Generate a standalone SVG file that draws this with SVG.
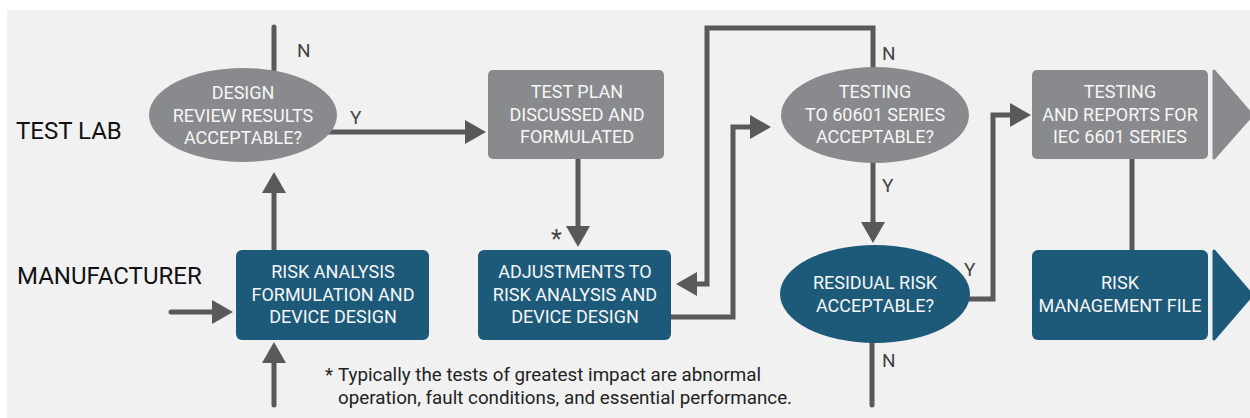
<svg xmlns="http://www.w3.org/2000/svg" width="1250" height="418" viewBox="0 0 1250 418">
<style>
.bg{fill:#f1f1f1}
.gray{fill:#898a8d}
.blue{fill:#1d5a79}
.nt{font-family:Roboto,"Liberation Sans",sans-serif;font-size:18px;fill:#f6f6f6;text-anchor:middle}
.lane{font-family:Roboto,"Liberation Sans",sans-serif;font-size:24px;fill:#111}
.yn{font-family:Roboto,"Liberation Sans",sans-serif;font-size:19px;fill:#444}
.note{font-family:Roboto,"Liberation Sans",sans-serif;font-size:18.8px;fill:#222}
.c{fill:none;stroke:#595959;stroke-width:5;stroke-linejoin:miter}
.r{stroke-linecap:round}
</style>
<defs>
<marker id="ah" markerUnits="userSpaceOnUse" markerWidth="21" markerHeight="24" refX="2" refY="12" orient="auto">
<path d="M0,0 L21,12 L0,24 z" fill="#595959"/>
</marker>
</defs>
<rect class="bg" x="7" y="10" width="1243" height="408"/>
<text class="lane" x="16" y="139">TEST LAB</text>
<text class="lane" x="17" y="284">MANUFACTURER</text>
<g id="connectors">
<path class="c r" d="M274,27 V70"/>
<path class="c" d="M320,132 H467" marker-end="url(#ah)"/>
<path class="c" d="M578,159 V228" marker-end="url(#ah)"/>
<path class="c" d="M274,250 V191" marker-end="url(#ah)"/>
<path class="c r" d="M171,312 H214" marker-end="url(#ah)"/>
<path class="c r" d="M274,405 V361" marker-end="url(#ah)"/>
<path class="c" d="M873,70 V28 H707 V284 H695" marker-end="url(#ah)"/>
<path class="c" d="M668,317 H733 V127 H752" marker-end="url(#ah)"/>
<path class="c" d="M873,160 V224" marker-end="url(#ah)"/>
<path class="c" d="M960,299 H993 V115 H1012" marker-end="url(#ah)"/>
<path class="c r" d="M872,340 V405"/>
<path class="c" d="M1132,159 V250"/>
</g>
<g id="labels">
<text class="yn" x="297" y="57">N</text>
<text class="yn" x="350" y="124">Y</text>
<text class="yn" x="882" y="60">N</text>
<text class="yn" x="882" y="192">Y</text>
<text class="yn" x="964" y="276">Y</text>
<text class="yn" x="882" y="367">N</text>
<text class="yn" x="551" y="248" style="font-size:25px">*</text>
</g>
<g id="design-review">
<ellipse class="gray" cx="243" cy="115" rx="94" ry="47"/>
<text class="nt" x="243" y="99">DESIGN</text>
<text class="nt" x="243" y="122">REVIEW RESULTS</text>
<text class="nt" x="243" y="144">ACCEPTABLE?</text>
</g>
<g id="test-plan">
<rect class="gray" x="488" y="70" width="176" height="89" rx="5"/>
<text class="nt" x="577" y="98">TEST PLAN</text>
<text class="nt" x="577" y="121">DISCUSSED AND</text>
<text class="nt" x="577" y="143">FORMULATED</text>
</g>
<g id="testing-60601">
<ellipse class="gray" cx="875" cy="115" rx="94" ry="48"/>
<text class="nt" x="875" y="98">TESTING</text>
<text class="nt" x="875" y="121">TO 60601 SERIES</text>
<text class="nt" x="875" y="143">ACCEPTABLE?</text>
</g>
<g id="testing-reports">
<rect class="gray" x="1032" y="70" width="176" height="89" rx="5"/>
<text class="nt" x="1120" y="98">TESTING</text>
<text class="nt" x="1120" y="121">AND REPORTS FOR</text>
<text class="nt" x="1120" y="143">IEC 6601 SERIES</text>
<path class="gray" d="M1214,71 L1252,115 L1214,158 Z" stroke="#898a8d" stroke-width="3" stroke-linejoin="round"/>
</g>
<g id="risk-analysis">
<rect class="blue" x="236" y="250" width="193" height="90" rx="6"/>
<text class="nt" x="333" y="278">RISK ANALYSIS</text>
<text class="nt" x="333" y="301">FORMULATION AND</text>
<text class="nt" x="333" y="323">DEVICE DESIGN</text>
</g>
<g id="adjustments">
<rect class="blue" x="478" y="250" width="193" height="90" rx="6"/>
<text class="nt" x="575" y="278">ADJUSTMENTS TO</text>
<text class="nt" x="575" y="301">RISK ANALYSIS AND</text>
<text class="nt" x="575" y="323">DEVICE DESIGN</text>
</g>
<g id="residual-risk">
<ellipse class="blue" cx="875" cy="294" rx="95" ry="49"/>
<text class="nt" x="875" y="289">RESIDUAL RISK</text>
<text class="nt" x="875" y="312">ACCEPTABLE?</text>
</g>
<g id="risk-management-file">
<rect class="blue" x="1032" y="250" width="176" height="90" rx="6"/>
<text class="nt" x="1120" y="289">RISK</text>
<text class="nt" x="1120" y="312">MANAGEMENT FILE</text>
<path class="blue" d="M1214,251 L1252,295 L1214,339 Z" stroke="#1d5a79" stroke-width="3" stroke-linejoin="round"/>
</g>
<g id="footnote">
<text class="note" x="325" y="381">*</text>
<text class="note" x="338" y="381">Typically the tests of greatest impact are abnormal</text>
<text class="note" x="338" y="404">operation, fault conditions, and essential performance.</text>
</g>
</svg>
